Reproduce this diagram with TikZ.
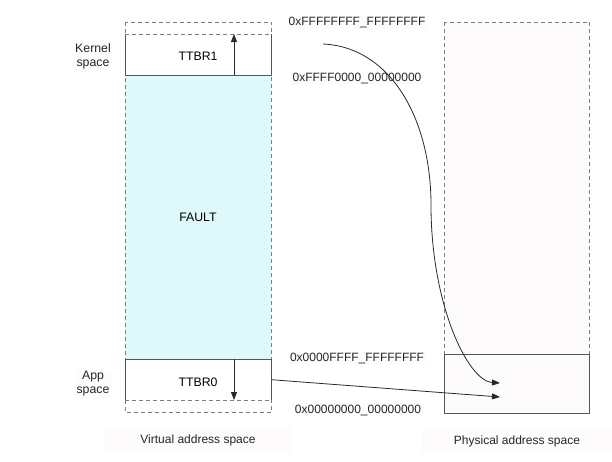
\documentclass[tikz,border=0pt]{standalone}
\usepackage{fontspec}
\setmainfont{Liberation Sans}
\usetikzlibrary{arrows.meta}
\definecolor{faultcyan}{HTML}{DFF9FB}
\definecolor{edgegray}{HTML}{555555}
\definecolor{dashgray}{HTML}{7E7E7E}
\definecolor{labelbg}{HTML}{FDFBFC}
\definecolor{inkdark}{HTML}{2A2A2A}
\tikzset{
  lbl/.style={inner sep=2pt, fill=labelbg, font=\fontsize{12}{14}\selectfont, text=black!85},
  solidedge/.style={draw=edgegray, line width=0.9pt},
  dashedge/.style={draw=dashgray, line width=0.9pt, dash pattern=on 4pt off 3pt},
  ptr/.style={draw=inkdark, line width=0.8pt, -{Triangle[length=8pt,width=6pt]}},
  region/.style={inner sep=0pt, anchor=north west}
}
\begin{document}
\begin{tikzpicture}[x=1pt,y=-1pt]
\useasboundingbox (0,0) rectangle (612,461);
% virtual address column
\node[region, minimum width=146pt, minimum height=390pt] (vcol) at (125,22) {};
\node[region, fill=faultcyan, minimum width=146pt, minimum height=284pt] (fault) at (125,75) {};
\node[region, minimum width=146pt, minimum height=41pt] (kernel) at (125,34) {};
\node[region, minimum width=146pt, minimum height=41pt] (app) at (125,359) {};
\draw[dashedge] (vcol.north west) rectangle (vcol.south east);
\draw[solidedge] (kernel.north west) -- (kernel.south west) -- (kernel.south east) -- (kernel.north east);
\draw[dashedge] (kernel.north west) -- (kernel.north east);
\draw[solidedge] (app.south west) -- (app.north west) -- (app.north east) -- (app.south east);
\draw[dashedge] (app.south west) -- (app.south east);
% texts in virtual column
\node[font=\fontsize{12.3}{14}\selectfont] (ttbr1) at (198,56) {TTBR1};
\node[font=\fontsize{12.3}{14}\selectfont] (ttbr0) at (198,382) {TTBR0};
\node[font=\fontsize{12.3}{14}\selectfont] (faulttxt) at (198,217) {FAULT};
\coordinate (k1) at (234,75);
\coordinate (k2) at (234,34);
\coordinate (a1) at (234,359);
\coordinate (a2) at (234,400);
\draw[ptr] (k1) -- (k2);
\draw[ptr] (a1) -- (a2);
\node[lbl, align=center, font=\fontsize{12.3}{14}\selectfont] (kspace) at (93,56) {Kernel\\space};
\node[lbl, align=center, font=\fontsize{12.3}{14}\selectfont] (aspace) at (93,384) {App\\space};
\node[lbl, minimum width=186pt, minimum height=26pt] (vlabel) at (198,440) {Virtual address space};
% physical column
\node[region, fill=labelbg, minimum width=145pt, minimum height=391pt] (pcol) at (444,22) {};
\node[region, minimum width=145pt, minimum height=59pt] (plow) at (444,354) {};
\draw[dashedge] (pcol.north west) rectangle (pcol.south east);
\draw[solidedge] (plow.north west) rectangle (plow.south east);
\node[lbl, minimum width=190pt, minimum height=26pt] (plabel) at (517,441) {Physical address space};
% address labels
\node[lbl] (addr1) at (357,23) {0xFFFFFFFF\_FFFFFFFF};
\node[lbl] (addr2) at (357,78) {0xFFFF0000\_00000000};
\node[lbl] (addr3) at (357,358) {0x0000FFFF\_FFFFFFFF};
\node[lbl] (addr4) at (358,410) {0x00000000\_00000000};
% mappings
\coordinate (kstart) at (323,44);
\coordinate (kmid) at (431,205);
\coordinate (kend) at (500,383);
\coordinate (aend) at (500,397);
\draw[draw=inkdark, line width=0.8pt] (kstart) .. controls (390,47) and (431,118) .. (kmid);
\draw[ptr] (kmid) .. controls (431,305) and (468,381) .. (kend);
\draw[ptr] (app.east) -- (aend);
\end{tikzpicture}
\end{document}
